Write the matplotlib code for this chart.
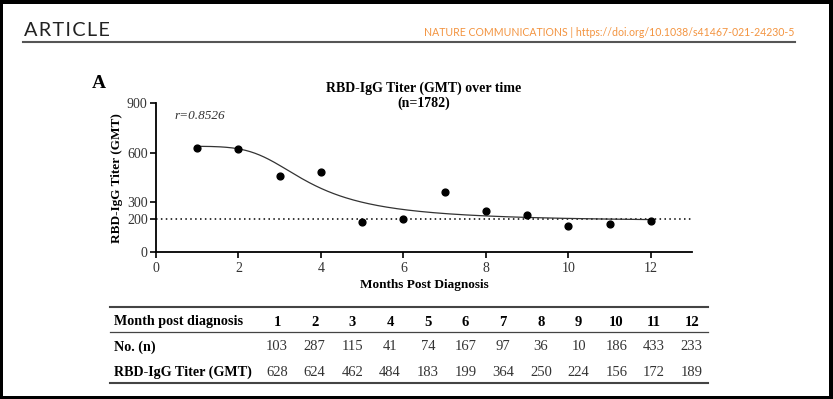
import numpy as np
import matplotlib
matplotlib.use('Agg')
import matplotlib.pyplot as plt
from matplotlib.lines import Line2D
from matplotlib.patches import Rectangle

months = [1, 2, 3, 4, 5, 6, 7, 8, 9, 10, 11, 12]
n_per_month = [103, 287, 115, 41, 74, 167, 97, 36, 10, 186, 433, 233]
gmt = [628, 624, 462, 484, 183, 199, 364, 250, 224, 156, 172, 189]
cutoff = 200
r_text = 'r=0.8526'

# fitted curve (5 parameter logistic, parameters)
fit_top, fit_bottom, fit_ec50, fit_hill, fit_asym = 640, 185, 3.04, 6.0, 0.45

W, H = 833, 399
serif = 'Liberation Serif'
dark = '#333333'

def fx(x):
    return x / W

def fy(y):
    return 1 - y / H

fig = plt.figure(figsize=(W / 100, H / 100), dpi=100)
fig.patch.set_facecolor('white')

# black screenshot frame
for (x0, y0, w, h) in [(0, 0, 3, H), (W - 4, 0, 4, H), (0, 0, W, 4), (0, H - 3, W, 3)]:
    fig.patches.append(Rectangle((fx(x0), fy(y0 + h)), w / W, h / H, transform=fig.transFigure,
                                 facecolor='black', edgecolor='none', zorder=10))

# page header
fig.text(fx(24), fy(30), 'A R T I C L E'.replace(' ', '\u200a'), fontsize=14.3, family='Lato',
         color='#222222', ha='left', va='center')
fig.text(fx(794), fy(33), 'NATURE COMMUNICATIONS | https://doi.org/10.1038/s41467-021-24230-5',
         fontsize=7.6, family='Lato', color='#f39440', ha='right', va='center')
fig.add_artist(Line2D([fx(23), fx(795)], [fy(42), fy(42)], color='#555555', lw=1.5))

fig.text(fx(92), fy(83), 'A', fontsize=14, family=serif, weight='bold', ha='left', va='center')

# plot
ax = fig.add_axes([fx(156), fy(252), (692 - 156) / W, (252 - 103.3) / H])
xs = np.linspace(1, 12, 300)
fit = fit_bottom + (fit_top - fit_bottom) / (1 + (xs / fit_ec50) ** fit_hill) ** fit_asym
ax.plot(xs, fit, color=dark, lw=0.9, zorder=2)
ax.scatter(months, gmt, s=24, color='black', zorder=3)
ax.axhline(cutoff, color='black', lw=1.1, ls=(0, (1, 2.2)), zorder=1)

ax.set_xlim(0, 13)
ax.set_ylim(0, 900)
ax.set_xticks([0, 2, 4, 6, 8, 10, 12])
ax.set_yticks([0, 200, 300, 600, 900])
for s in ['top', 'right']:
    ax.spines[s].set_visible(False)
for s in ['left', 'bottom']:
    ax.spines[s].set_linewidth(1.3)
ax.tick_params(direction='out', length=4, width=1.2, labelsize=10, labelcolor=dark, pad=2)
ax.tick_params(axis='x', pad=3.5)
for lab in ax.get_xticklabels() + ax.get_yticklabels():
    lab.set_family(serif)

ax.set_xlabel('Months Post Diagnosis', family=serif, weight='bold', fontsize=9.5, labelpad=2.5)
ax.set_ylabel('RBD-IgG Titer (GMT)', family=serif, weight='bold', fontsize=9.5, labelpad=3)
ax.text(0.45, 825, r_text, family=serif, style='italic', fontsize=9.5, color=dark, va='center')

fig.text(fx(424), fy(88), 'RBD-IgG Titer (GMT) over time', family=serif, weight='bold',
         fontsize=10, ha='center', va='center')
fig.text(fx(424), fy(103), '(n=1782)', family=serif, weight='bold',
         fontsize=10, ha='center', va='center')

# table below the plot
tx0, tx1 = 110, 708
fig.add_artist(Line2D([fx(tx0), fx(tx1)], [fy(307), fy(307)], color='#444444', lw=1.5))
fig.add_artist(Line2D([fx(tx0), fx(tx1)], [fy(332), fy(332)], color='#444444', lw=0.9))
fig.add_artist(Line2D([fx(tx0), fx(tx1)], [fy(383), fy(383)], color='#444444', lw=1.5))

rows = [('Month post diagnosis', months, 322, 'bold'),
        ('No. (n)', n_per_month, 347, 'normal'),
        ('RBD-IgG Titer (GMT)', gmt, 372, 'normal')]
for label, vals, yy, wt in rows:
    fig.text(fx(114), fy(yy), label, family=serif, weight='bold', fontsize=10.2,
             ha='left', va='center')
    for i, v in enumerate(vals):
        fig.text(fx(277 + 37.7 * i), fy(yy), str(v), family=serif, weight=wt, fontsize=10.5,
                 color='black' if wt == 'bold' else dark, ha='center', va='center')

fig.savefig('out.png', dpi=100)
